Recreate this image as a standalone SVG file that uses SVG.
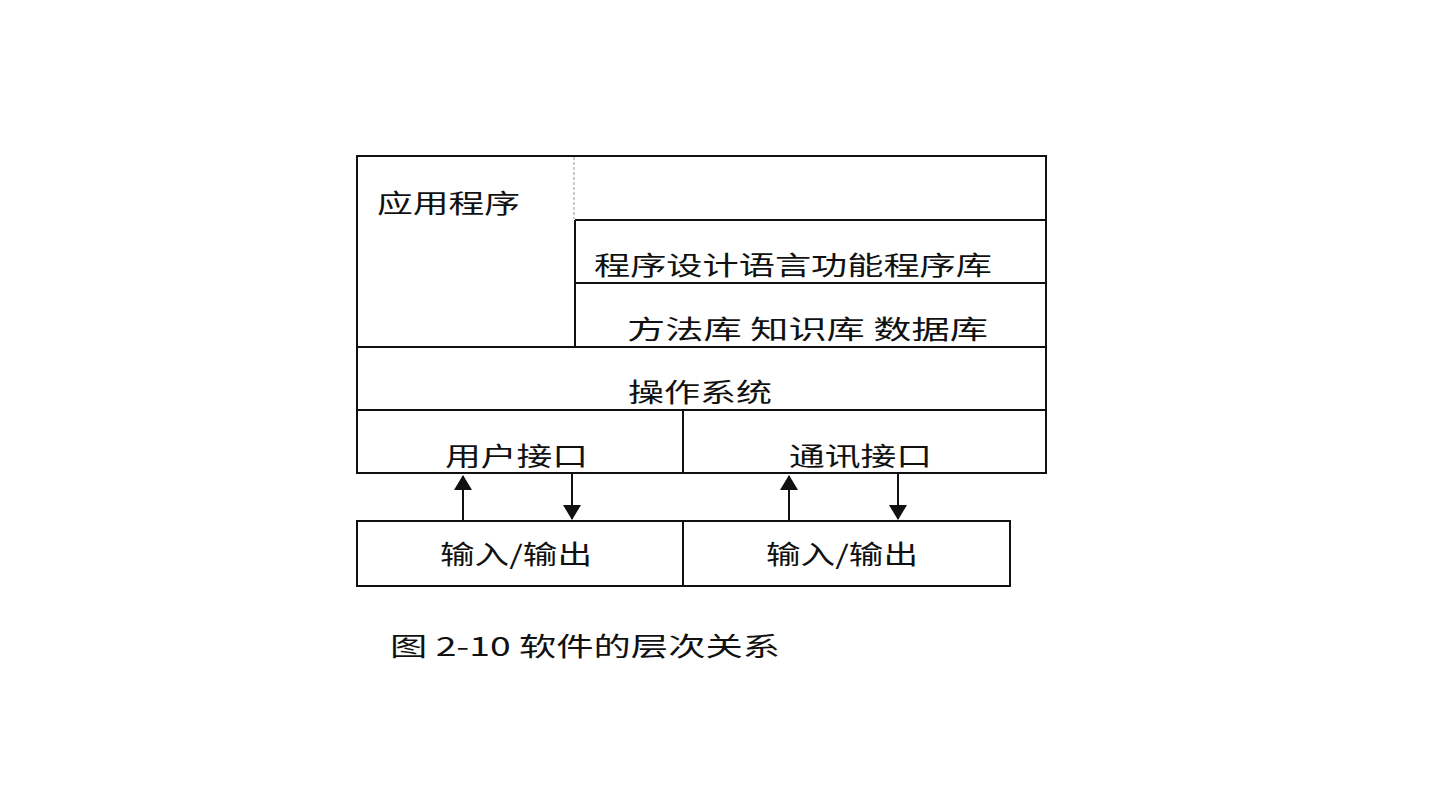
<svg xmlns="http://www.w3.org/2000/svg" width="1440" height="810" viewBox="0 0 1440 810">
<style>
.ln{stroke:#111;stroke-width:2;fill:none}
.bx{stroke:#111;stroke-width:2;fill:#fff}
.t{font-family:"Noto Sans CJK SC","Liberation Sans",sans-serif;font-size:26px;fill:#111}
.ar{stroke:#111;stroke-width:2}
</style>
<defs>
<marker id="ah" viewBox="0 0 15 18" refX="14" refY="9" markerWidth="15" markerHeight="18" markerUnits="userSpaceOnUse" orient="auto">
<path d="M0,0 L15,9 L0,18 z" fill="#111"/>
</marker>
</defs>
<rect width="1440" height="810" fill="#fff"/>
<g id="app">
<rect class="bx" x="357" y="156" width="689" height="317"/>
<line x1="574" y1="157" x2="574" y2="219" stroke="#bbb" stroke-width="1.5" stroke-dasharray="3,2"/>
<text class="t" x="377" y="213" textLength="143" lengthAdjust="spacingAndGlyphs">应用程序</text>
</g>
<g id="lang">
<line class="ln" x1="575" y1="220" x2="1046" y2="220"/>
<line class="ln" x1="575" y1="220" x2="575" y2="347"/>
<text class="t" x="594" y="275" textLength="398" lengthAdjust="spacingAndGlyphs">程序设计语言功能程序库</text>
</g>
<g id="libs">
<line class="ln" x1="575" y1="283" x2="1046" y2="283"/>
<text class="t" x="627" y="339" textLength="361" lengthAdjust="spacingAndGlyphs">方法库 知识库 数据库</text>
</g>
<g id="os">
<line class="ln" x1="357" y1="347" x2="1046" y2="347"/>
<text class="t" x="628" y="402" textLength="144" lengthAdjust="spacingAndGlyphs">操作系统</text>
</g>
<g id="ui">
<line class="ln" x1="357" y1="410" x2="1046" y2="410"/>
<line class="ln" x1="683" y1="410" x2="683" y2="473"/>
<text class="t" x="445" y="466" textLength="143" lengthAdjust="spacingAndGlyphs">用户接口</text>
</g>
<g id="ci">
<text class="t" x="789" y="466" textLength="143" lengthAdjust="spacingAndGlyphs">通讯接口</text>
</g>
<g id="io1">
<rect class="bx" x="357" y="521" width="326" height="65"/>
<text class="t" x="440" y="564" textLength="152" lengthAdjust="spacingAndGlyphs">输入/输出</text>
</g>
<g id="io2">
<rect class="bx" x="683" y="521" width="327" height="65"/>
<text class="t" x="766" y="564" textLength="152" lengthAdjust="spacingAndGlyphs">输入/输出</text>
</g>
<g id="connectors">
<line class="ar" x1="463" y1="520" x2="463" y2="476" marker-end="url(#ah)"/>
<line class="ar" x1="572" y1="474" x2="572" y2="519" marker-end="url(#ah)"/>
<line class="ar" x1="789" y1="520" x2="789" y2="476" marker-end="url(#ah)"/>
<line class="ar" x1="898" y1="474" x2="898" y2="519" marker-end="url(#ah)"/>
</g>
<text class="t" x="390" y="656" textLength="390" lengthAdjust="spacingAndGlyphs">图 2-10 软件的层次关系</text>
</svg>
